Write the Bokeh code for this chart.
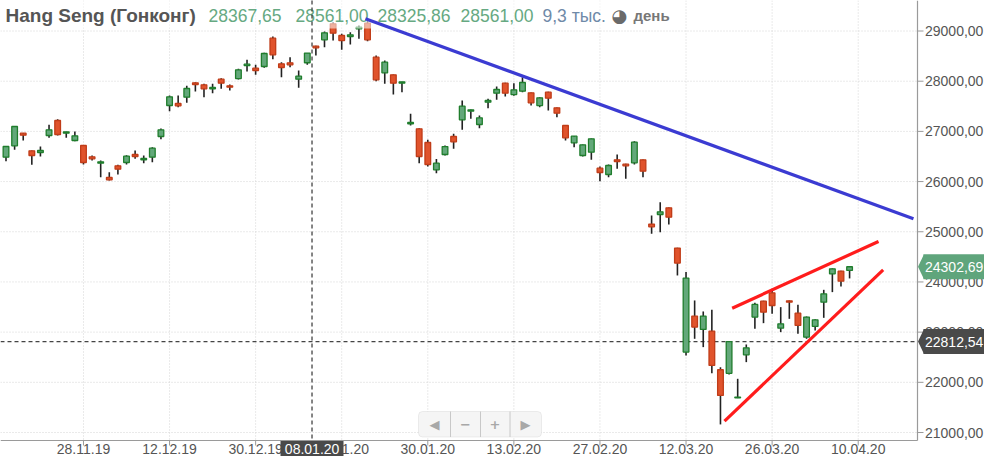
from bokeh.plotting import figure
from bokeh.models import Label, BoxAnnotation, Range1d, ColumnDataSource
from bokeh.core.properties import value
from bokeh.embed import file_html
from bokeh.resources import INLINE

# ---------------- data ----------------
instrument = "Hang Seng (Гонконг)"
volume_text = "9,3 тыс."
period_text = "день"

tick_labels = ["28.11.19", "12.12.19", "30.12.19", "14.01.20", "30.01.20",
               "13.02.20", "27.02.20", "12.03.20", "26.03.20", "10.04.20"]
tick_bars = [9, 19, 29, 39, 49, 59, 69, 79, 89, 99]
price_ticks = [21000, 22000, 23000, 24000, 25000, 26000, 27000, 28000, 29000]

open_ = [26486, 26712, 26964, 26612, 26579, 26918, 27217, 26964, 26818, 26719,
         26493, 26367, 26081, 26314, 26380, 26539, 26433, 26486, 26898, 27516,
         27555, 27682, 27967, 27927, 27848, 28040, 27907, 28053, 28312, 28259,
         28293, 28857, 28346, 28366, 28040, 28367.65, 28698, 28824, 29142, 28910,
         28890, 29043, 29156, 28478, 28166, 28126, 27960, 27150, 27050, 26778,
         26234, 26539, 26898, 27230, 27402, 27137, 27582, 27761, 27960, 27734,
         27801, 27768, 27515, 27781, 27469, 27117, 26771, 26519, 26586, 26267,
         26141, 26433, 26347, 26373, 26433, 25152, 25344, 25477, 24674, 22602,
         23319, 23053, 23020, 22250, 22180, 21690, 22548, 23299, 23617, 23783,
         23079, 23624, 23378, 22900, 23113, 23597, 24162, 24215, 24230]
high = [26710, 27100, 26970, 26620, 26699, 27130, 27243, 26995, 26998, 26725,
        26519, 26420, 26187, 26333, 26526, 26619, 26519, 26685, 27057, 27715,
        27715, 27907, 27980, 27947, 27947, 28060, 27934, 28246, 28425, 28326,
        28565, 28890, 28379, 28478, 28213, 28561.00, 28705, 28990, 29176, 28943,
        28976, 29109, 29209, 28511, 28412, 28135, 27990, 27349, 27060, 26831,
        26450, 26718, 26951, 27615, 27435, 27316, 27648, 27894, 27970, 27960,
        28080, 27775, 27681, 27790, 27475, 27125, 26910, 26740, 26860, 26300,
        26340, 26539, 26355, 26805, 26440, 25325, 25590, 25485, 24680, 24196,
        23631, 23412, 23445, 22300, 22815, 22070, 22754, 23584, 23625, 23863,
        23498, 23630, 23544, 23312, 23259, 23843, 24270, 24222, 24310]
low = [26406, 26632, 26818, 26333, 26499, 26871, 26918, 26871, 26805, 26340,
       26420, 26088, 26021, 26141, 26340, 26453, 26367, 26387, 26845, 27403,
       27482, 27569, 27794, 27682, 27761, 27848, 27814, 28034, 28193, 28127,
       28266, 28439, 28080, 28279, 27868, 28325.86, 28512, 28678, 28810, 28624,
       28731, 28844, 28797, 28000, 27947, 27734, 27781, 27117, 26366, 26300,
       26167, 26519, 26652, 27031, 27250, 27064, 27462, 27628, 27695, 27708,
       27781, 27515, 27482, 27416, 27283, 26818, 26685, 26499, 26433, 26008,
       26088, 26254, 26054, 26340, 26088, 24959, 24992, 25145, 24129, 22535,
       22867, 22701, 22183, 21161, 22156, 21685, 22402, 23066, 23179, 23365,
       23000, 23265, 22967, 22867, 23033, 23285, 23797, 23910, 24070]
close = [26699, 27097, 26924, 26519, 26619, 27031, 26938, 26991, 26911, 26380,
         26453, 26393, 26035, 26247, 26506, 26499, 26460, 26665, 27031, 27688,
         27509, 27854, 27934, 27848, 27874, 27960, 27881, 28226, 28339, 28213,
         28552, 28525, 28273, 28326, 28100, 28561.00, 28664, 28963, 28956, 28810,
         28923, 29076, 28824, 28027, 28379, 27960, 27987, 27177, 26499, 26340,
         26366, 26698, 26791, 27502, 27429, 27270, 27615, 27834, 27761, 27827,
         27974, 27568, 27668, 27661, 27363, 26871, 26904, 26732, 26851, 26181,
         26320, 26400, 26313, 26785, 26207, 25099, 25398, 25291, 24375, 24076,
         23100, 23319, 22336, 21738, 22810, 21705, 22688, 23551, 23398, 23531,
         23166, 23597, 23133, 23299, 23245, 23763, 24262, 24016, 24302.69]

# crosshair (bar / price) and hand-drawn trend lines (bar, price)
cross_bar = 35
cross_date = "08.01.20"
cross_x = 35.55
cross_price = 22812.54
blue_trend_x = [41.76, 105.42]
blue_trend_y = [29243, 25258]
red_upper_x = [84.36, 101.36]
red_upper_y = [23477, 24806]
red_lower_x = [83.47, 101.9]
red_lower_y = [21226, 24242]

# ---------------- layout ----------------
W, H = 984, 456
PX_PER_BAR = 8.608
PX_PER_PT = 401.5 / 8000.0
X0 = -5.5 / PX_PER_BAR
X1 = X0 + W / PX_PER_BAR
Y_TOP = 29000 + 30.5 / PX_PER_PT
Y_BOT = Y_TOP - H / PX_PER_PT
AX_R = 917      # right axis line (px)
AX_B = 440      # bottom axis line (px)


def px_x(px):
    return X0 + px / PX_PER_BAR


def px_y(py):
    return Y_TOP - py / PX_PER_PT


def fmt(v):
    return f"{v:.2f}".replace(".", ",")


FONT = "Liberation Sans"
AX_COL = "#9a9a9a"
LBL_COL = "#555555"
GRID_COL = "#d4d4d4"
GREEN_FILL, GREEN_LINE = "#63a87a", "#1f7d2c"
RED_FILL, RED_LINE = "#e0532c", "#c03c18"

p = figure(width=W, height=H, output_backend="svg", toolbar_location=None,
           x_range=Range1d(X0, X1), y_range=Range1d(Y_BOT, Y_TOP),
           x_axis_location=None, y_axis_location=None,
           min_border=0, background_fill_color="white", border_fill_color="white",
           outline_line_color=None)
p.grid.visible = False

# grid
n_t = len(tick_bars)
n_p = len(price_ticks)
p.segment(x0=tick_bars, x1=tick_bars, y0=[px_y(0)] * n_t, y1=[px_y(AX_B)] * n_t,
          line_color=GRID_COL, line_dash="1 2", line_width=1)
p.segment(x0=[px_x(0)] * n_p, x1=[px_x(AX_R)] * n_p, y0=price_ticks, y1=price_ticks,
          line_color=GRID_COL, line_dash="1 2", line_width=1)

# axes lines, ticks, labels
p.segment(x0=[px_x(0), px_x(AX_R)], x1=[px_x(AX_R), px_x(AX_R)],
          y0=[px_y(AX_B), px_y(0)], y1=[px_y(AX_B), px_y(AX_B)],
          line_color=AX_COL, line_width=1.2)
p.segment(x0=tick_bars, x1=tick_bars, y0=[px_y(AX_B)] * n_t, y1=[px_y(AX_B + 5)] * n_t,
          line_color=AX_COL, line_width=1)
p.segment(x0=[px_x(AX_R)] * n_p, x1=[px_x(AX_R + 6)] * n_p, y0=price_ticks, y1=price_ticks,
          line_color=AX_COL, line_width=1)
p.text(x=tick_bars, y=[px_y(AX_B + 8.5)] * n_t, text=tick_labels,
       text_align="center", text_baseline="middle", text_color=LBL_COL,
       text_font=value(FONT), text_font_size=value("14px"))
p.text(x=[px_x(924.5)] * n_p, y=price_ticks, text=[fmt(t) for t in price_ticks],
       text_align="left", text_baseline="middle", text_color=LBL_COL,
       text_font=value(FONT), text_font_size=value("14px"))

# horizontal crosshair under the candles
p.segment(x0=[px_x(0)], x1=[px_x(AX_R)], y0=[cross_price], y1=[cross_price],
          line_color="#444444", line_dash="4 3", line_width=1.3)

# candles
bars = list(range(len(close)))
up = [c >= o for o, c in zip(open_, close)]
src = ColumnDataSource(dict(
    x=bars, high=high, low=low,
    top=[max(o, c) for o, c in zip(open_, close)],
    bottom=[min(o, c) for o, c in zip(open_, close)],
    fill=[GREEN_FILL if u else RED_FILL for u in up],
    line=[GREEN_LINE if u else RED_LINE for u in up],
))
p.segment(x0="x", y0="low", x1="x", y1="high", source=src, line_color="#222222", line_width=1.6)
p.vbar(x="x", width=0.66, top="top", bottom="bottom", source=src,
       fill_color="fill", line_color="line", line_width=1.3)

# translucent backdrop behind the header text
p.add_layout(BoxAnnotation(left=None, right=px_x(672), bottom=px_y(28), top=None,
                           fill_color="white", fill_alpha=0.55, line_color=None))

# header
hdr_y = px_y(15)
header = [
    (instrument, 5, "#555555", "19px", "bold", FONT),
    (fmt(open_[cross_bar]), 208, "#66a982", "17.5px", "normal", FONT),
    (fmt(high[cross_bar]), 295, "#66a982", "17.5px", "normal", FONT),
    (fmt(low[cross_bar]), 377, "#66a982", "17.5px", "normal", FONT),
    (fmt(close[cross_bar]), 460, "#66a982", "17.5px", "normal", FONT),
    (volume_text, 542, "#6f8aa8", "17.5px", "normal", FONT),
    ("◕", 611, "#6a6a6a", "18px", "normal", "DejaVu Sans"),
    (period_text, 633, "#777777", "15px", "bold", FONT),
]
for txt, xpx, col, size, style, font in header:
    p.add_layout(Label(x=px_x(xpx), y=hdr_y, text=txt, text_align="left", text_baseline="middle",
                       text_color=col, text_font_size=size, text_font_style=style, text_font=font))

# trend lines
p.line(blue_trend_x, blue_trend_y, line_color="#3b3bd2", line_width=3.2, level="overlay")
p.line(red_upper_x, red_upper_y, line_color="#ff1c1c", line_width=3.2, level="overlay")
p.line(red_lower_x, red_lower_y, line_color="#ff1c1c", line_width=3.2, level="overlay")

# vertical crosshair
p.segment(x0=[cross_x], x1=[cross_x], y0=[px_y(0)], y1=[px_y(AX_B)],
          line_color="#444444", line_dash="4 3", line_width=1.3, level="overlay")

# navigation widget
nav_t, nav_b = 411, 436.5
p.add_layout(BoxAnnotation(left=px_x(418), right=px_x(541), top=px_y(nav_t), bottom=px_y(nav_b),
                           fill_color="#f5f5f5", fill_alpha=1, line_color="#c8c8c8",
                           line_width=1, border_radius=4))
sep_x = [px_x(v) for v in (450, 480, 509.5)]
p.segment(x0=sep_x, y0=[px_y(nav_t)] * 3, x1=sep_x, y1=[px_y(nav_b)] * 3,
          line_color="#c8c8c8", line_width=1, level="overlay")
for sym, xpx in (("◀", 434), ("−", 465), ("+", 494.5), ("▶", 525)):
    p.add_layout(Label(x=px_x(xpx), y=px_y((nav_t + nav_b) / 2), text=sym, text_align="center",
                       text_baseline="middle", text_color="#a8a8a8", text_font_size="13px",
                       text_font="DejaVu Sans", text_font_style="bold", level="overlay"))

# crosshair date tag on the time axis
p.quad(left=[px_x(280)], right=[px_x(343)], top=[px_y(AX_B + 0.5)], bottom=[px_y(H)],
       fill_color="#4a4a4a", line_color=None, level="overlay")
p.text(x=[px_x(311.6)], y=[px_y(AX_B + 8.5)], text=[cross_date], text_align="center",
       text_baseline="middle", text_color="white", text_font=value(FONT),
       text_font_size=value("14px"), level="overlay")

# price tags on the price axis
half = 12.5 / PX_PER_PT
for price, col in ((close[-1], "#5fa57c"), (cross_price, "#4a4a4a")):
    p.patch([px_x(917.5), px_x(923.5), px_x(923.5)], [price, price + half, price - half],
            fill_color=col, line_color=None, level="overlay")
    p.quad(left=[px_x(923)], right=[px_x(W)], top=[price + half], bottom=[price - half],
           fill_color=col, line_color=None, level="overlay")
    p.text(x=[px_x(924.5)], y=[price], text=[fmt(price)], text_align="left",
           text_baseline="middle", text_color="white", text_font=value(FONT),
           text_font_size=value("14px"), level="overlay")

open("out.html", "w").write(file_html(p, INLINE))
